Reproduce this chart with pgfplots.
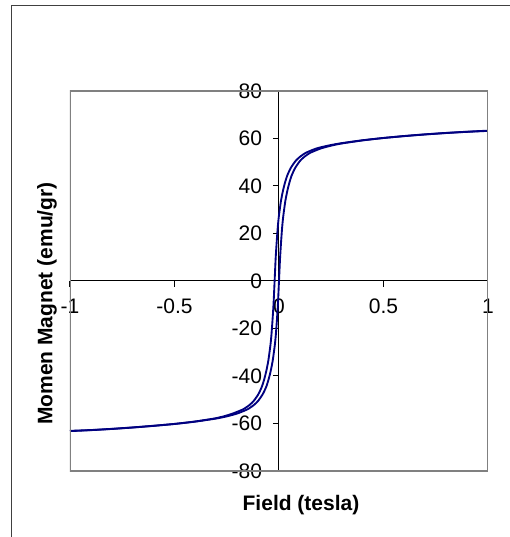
\documentclass[border=0pt]{standalone}
\usepackage{fontspec}
\setmainfont{Liberation Sans}
\usepackage{pgfplots}
\pgfplotsset{compat=1.18}
\definecolor{navyline}{RGB}{0,0,128}
\definecolor{framegray}{RGB}{128,128,128}
\begin{document}
\begin{tikzpicture}
\useasboundingbox (0,0) rectangle (382.5pt,402.75pt);
\fill[white] (0,0) rectangle (382.5pt,402.75pt);
\draw[black!75, line width=0.9pt] (8.8pt,0) -- (8.8pt,398.6pt) -- (382.5pt,398.6pt);
\begin{axis}[
  at={(52.5pt,49.5pt)}, anchor=south west,
  scale only axis, width=313.5pt, height=285pt,
  xmin=-1, xmax=1, ymin=-80, ymax=80,
  axis lines=middle,
  axis line style={-, black, line width=0.75pt},
  hide obscured x ticks=false, hide obscured y ticks=false,
  xtick={-1,-0.5,0,0.5,1}, xticklabels={-1,-0.5,0,0.5,1},
  ytick={-80,-60,-40,-20,0,20,40,60,80},
  yticklabels={-80,-60,-40,-20,0,20,40,60,80},
  tick align=center,
  major tick length=4.5pt,
  tick style={black, line width=0.75pt},
  xtick style={yshift=-2.25pt},
  ytick style={xshift=-2.25pt},
  ticklabel style={font=\fontsize{15.75}{18}\selectfont, text=black},
  xticklabel style={anchor=north, yshift=-7.5pt},
  yticklabel style={anchor=east, xshift=-7pt},
  clip=true,
]
\addplot[navyline, line width=1.4pt, smooth, tension=0.35] coordinates {
(-1,-63.2) (-0.9,-62.8) (-0.8,-62.3) (-0.7,-61.7) (-0.6,-61) (-0.5,-60.2) (-0.4,-59.2) (-0.3,-57.9) (-0.25,-57) (-0.2,-55.8) (-0.15,-54) (-0.12,-52.2) (-0.1,-50.5) (-0.08,-48) (-0.07,-46.3) (-0.06,-44.3) (-0.05,-41.5) (-0.04,-38) (-0.03,-33.5) (-0.02,-27) (-0.015,-22.5) (-0.01,-16.5) (-0.005,-9.5) (0,0) (0.005,9.5) (0.01,16.5) (0.015,22.5) (0.02,27) (0.03,33.5) (0.04,38) (0.05,41.5) (0.06,44.3) (0.07,46.3) (0.08,48) (0.1,50.5) (0.12,52.2) (0.15,54) (0.2,55.8) (0.25,57) (0.3,57.9) (0.4,59.2) (0.5,60.2) (0.6,61) (0.7,61.7) (0.8,62.3) (0.9,62.8) (1,63.2)
};
\addplot[navyline, line width=1.4pt, smooth, tension=0.35] coordinates {
(-1,-63.1) (-0.9,-62.75) (-0.8,-62.25) (-0.7,-61.65) (-0.6,-60.95) (-0.503,-60.2) (-0.405,-59.2) (-0.31,-57.9) (-0.265,-57) (-0.221,-55.8) (-0.171,-54) (-0.141,-52.2) (-0.121,-50.5) (-0.101,-48) (-0.091,-46.3) (-0.081,-44.3) (-0.071,-41.5) (-0.061,-38) (-0.051,-33.5) (-0.041,-27) (-0.036,-22.5) (-0.031,-16.5) (-0.026,-9.5) (-0.021,0) (-0.016,9.5) (-0.011,16.5) (-0.006,22.5) (-0.001,27) (0.009,33.5) (0.019,38) (0.029,41.5) (0.039,44.3) (0.049,46.3) (0.059,48) (0.079,50.5) (0.099,52.2) (0.129,54) (0.179,55.8) (0.235,57) (0.29,57.9) (0.395,59.2) (0.497,60.2) (0.6,61.05) (0.7,61.75) (0.8,62.35) (0.9,62.85) (1,63.3)
};
\draw[framegray, line width=2pt] (rel axis cs:0,0) rectangle (rel axis cs:1,1);
\end{axis}
\node[font=\fontsize{15.75}{18}\selectfont\bfseries] at (225.75pt,24pt) {Field (tesla)};
\node[font=\fontsize{15.75}{18}\selectfont\bfseries, rotate=90] at (35.25pt,175.1pt) {Momen Magnet (emu/gr)};
\end{tikzpicture}
\end{document}
